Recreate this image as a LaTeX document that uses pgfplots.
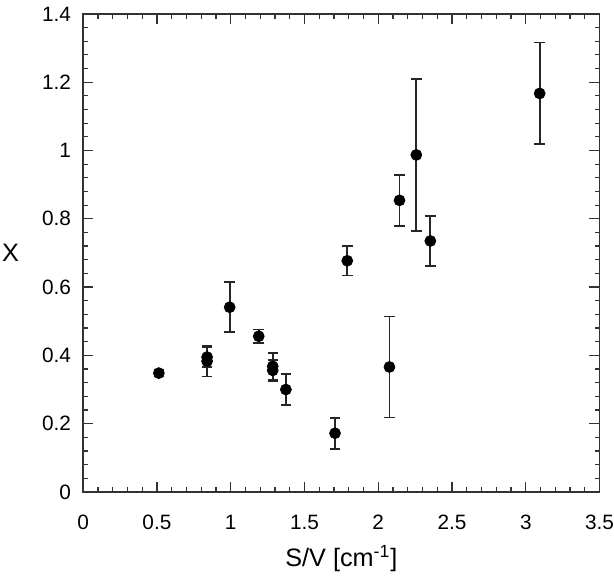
\documentclass[border=0pt]{standalone}
\usepackage{pgfplots}
\pgfplotsset{compat=1.18}
\usepackage{fontspec}
\setmainfont{Liberation Sans}
\begin{document}
\begin{tikzpicture}
\begin{axis}[
  scale only axis,
  width=256pt, height=237pt,
  xmin=0, xmax=3.5, ymin=0, ymax=1.4,
  xtick={0,0.5,...,3.5},
  ytick={0,0.2,...,1.4},
  minor x tick num=4,
  minor y tick num=4,
  tick align=inside,
  major tick length=5pt,
  minor tick length=2.5pt,
  axis line style={line width=0.9pt, black!80},
  every tick/.style={black!80, line width=0.6pt},
  /pgf/number format/assume math mode=true,
  tick label style={font=\fontsize{10.3}{12}\selectfont},
  xticklabel style={yshift=-8pt, inner xsep=0pt},
  yticklabel style={xshift=-2.5pt},
  label style={font=\fontsize{12.5}{14}\selectfont},
  xlabel={S/V [cm\textsuperscript{-1}]},
  ylabel={X},
  ylabel style={rotate=-90, xshift=-7pt, inner sep=1pt},
  xlabel style={yshift=-1pt},
]
\addplot[only marks, mark=*, mark size=2.7pt, black,
  error bars/.cd, y dir=both, y explicit,
  error bar style={line width=0.9pt, black!85},
  error mark options={rotate=90, mark size=2.6pt, line width=0.9pt, black!85}]
table[x=x, y=y, y error=e] {
x y e
0.513 0.348 0.010
0.84 0.395 0.030
0.84 0.383 0.045
0.993 0.541 0.073
1.19 0.456 0.020
1.285 0.368 0.040
1.285 0.356 0.030
1.374 0.300 0.045
1.707 0.172 0.045
1.79 0.677 0.043
2.076 0.366 0.148
2.144 0.854 0.074
2.258 0.987 0.222
2.353 0.735 0.074
3.094 1.167 0.149
};
\end{axis}
\end{tikzpicture}
\end{document}
